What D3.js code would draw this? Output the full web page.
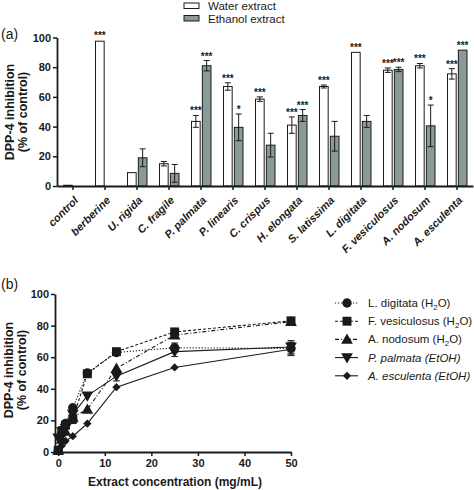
<!DOCTYPE html>
<html><head><meta charset="utf-8">
<script src="https://cdn.jsdelivr.net/npm/d3@7"></script>
<style>
body{margin:0;background:#fff;}
svg{display:block;font-family:"Liberation Sans",Arial,sans-serif;}
</style></head>
<body>
<script>
// ---------- Panel (a) data ----------
const categories = ["control","berberine","U. rigida","C. fragile","P. palmata","P. linearis","C. crispus","H. elongata","S. latissima","L. digitata","F. vesiculosus","A. nodosum","A. esculenta"];
const waterMean = [0.5, 97.5, 9, 15, 43.5, 67, 58.5, 41, 67, 90, 78, 81, 75.5];
const waterSD   = [0, 0.5, 0, 1.5, 4, 2.5, 1.5, 5.5, 1, 0, 1.5, 1.5, 3.5];
const waterSig  = ["", "***", "", "", "***", "***", "***", "***", "***", "***", "***", "***", "***"];
const ethanolMean = [null, null, 19, 8.5, 81, 39.5, 27.5, 47.5, 33.5, 43.5, 78.5, 40.5, 91.5];
const ethanolSD   = [null, null, 6, 6, 3.5, 9, 8, 4, 10, 4, 1.5, 14, 0.3];
const ethanolSig  = ["", "", "", "", "***", "*", "", "***", "", "", "***", "*", "***"];
const seriesA = ["Water extract","Ethanol extract"];
const yTicksA = [0,20,40,60,80,100];

// ---------- Panel (b) data ----------
const conc = [0, 0.78, 1.56, 3.125, 6.25, 12.5, 25, 50];
const lDigitata   = [1, 12, 18, 28, 50, 63, 66, 65.5];
const lDigitataSD = [0, 0, 0, 0, 0, 0, 3, 4];
const fVesiculosus   = [1, 13, 17, 21, 49.5, 63.5, 76, 83];
const fVesiculosusSD = [0, 3, 2, 3, 2, 1, 2, 1];
const aNodosum   = [1, 8, 13, 22, 27, 53, 74, 82.5];
const aNodosumSD = [0, 0, 0, 0, 0, 0, 0, 0];
const pPalmata   = [9, 13, 15, 24, 35.5, 48, 63.5, 66.5];
const pPalmataSD = [0, 3, 0, 0, 0, 3, 3, 4];
const aEsculenta   = [1, 4, 7, 10, 18, 41, 53.5, 65];
const aEsculentaSD = [0, 0, 0, 0, 0, 0, 0, 4];
const xTicksB = [0,10,20,30,40,50];
const yTicksB = [0,20,40,60,80,100];

const W = 474, H = 490;
const svg = d3.select("body").append("svg").attr("width", W).attr("height", H);
const ink = "#1a1a1a";
const gray = "#8a9b95";

// ================= Panel (a) =================
const xA = d3.scaleBand().domain(categories).range([57, 473]);
const xIn = d3.scaleBand().domain(seriesA).range([6.5, 26]).paddingInner(0.2);
const yA = d3.scaleLinear().domain([0, 100]).range([186, 37.5]);

const gA = svg.append("g");
const barData = [];
categories.forEach((c, i) => {
  barData.push({c, s: seriesA[0], v: waterMean[i], sd: waterSD[i], sig: waterSig[i]});
  if (ethanolMean[i] != null) barData.push({c, s: seriesA[1], v: ethanolMean[i], sd: ethanolSD[i], sig: ethanolSig[i]});
});
const bars = gA.selectAll("g.bar").data(barData).enter().append("g");
bars.append("rect")
  .attr("x", d => xA(d.c) + xIn(d.s))
  .attr("y", d => yA(d.v))
  .attr("width", xIn.bandwidth())
  .attr("height", d => yA(0) - yA(d.v))
  .attr("fill", d => d.s === seriesA[0] ? "#fff" : gray)
  .attr("stroke", ink).attr("stroke-width", 1);
bars.filter(d => d.sd > 0.6).each(function(d){
  const g = d3.select(this);
  const cx = xA(d.c) + xIn(d.s) + xIn.bandwidth()/2;
  const y1 = yA(d.v + d.sd), y2 = yA(d.v - d.sd);
  g.append("line").attr("x1", cx).attr("x2", cx).attr("y1", y1).attr("y2", y2).attr("stroke", ink).attr("stroke-width", 1);
  [y1, y2].forEach(y => g.append("line").attr("x1", cx-3).attr("x2", cx+3).attr("y1", y).attr("y2", y).attr("stroke", ink).attr("stroke-width", 1));
});
bars.filter(d => d.sig).append("text")
  .attr("x", d => xA(d.c) + xIn(d.s) + xIn.bandwidth()/2)
  .attr("y", d => yA(d.v + d.sd) - 1)
  .attr("text-anchor", "middle").attr("font-size", 10).attr("font-weight", "bold").attr("fill", ink)
  .text(d => d.sig);

const axYA = gA.append("g").attr("transform", "translate(57,0)")
  .call(d3.axisLeft(yA).tickValues(yTicksA).tickSize(4).tickPadding(2).tickSizeOuter(0));
const axXA = gA.append("g").attr("transform", "translate(0,186)")
  .call(d3.axisBottom(xA).tickSize(4).tickSizeOuter(0).tickFormat(""));
[axYA, axXA].forEach(a => { a.select(".domain").attr("stroke", ink).attr("stroke-width", 1.8); a.selectAll(".tick line").attr("stroke", ink).attr("stroke-width", 1.5); });
axYA.selectAll(".tick text").attr("font-size", 11).attr("font-weight", "bold").attr("fill", ink).attr("font-family", "Liberation Sans, Arial, sans-serif");
gA.append("g").selectAll("text").data(categories).enter().append("text")
  .attr("transform", d => `translate(${xA(d) + xA.bandwidth()/2 + 6},${201}) rotate(-45)`)
  .attr("text-anchor", "end").attr("font-size", 11).attr("font-weight", "bold").attr("font-style", "italic").attr("fill", ink)
  .text(d => d);

const tA = gA.append("text").attr("transform", "translate(14,112) rotate(-90)").attr("text-anchor", "middle")
  .attr("font-size", 12.5).attr("font-weight", "bold").attr("fill", ink);
tA.append("tspan").attr("x", 0).attr("dy", 0).text("DPP-4 inhibition");
tA.append("tspan").attr("x", 0).attr("dy", 13).text("(% of control)");
svg.append("text").attr("x", 1).attr("y", 39).attr("font-size", 14).attr("fill", ink).text("(a)");

const legA = svg.append("g");
seriesA.forEach((s, i) => {
  legA.append("rect").attr("x", 184).attr("y", 3 + i*12.5).attr("width", 15).attr("height", 5.5)
    .attr("fill", i === 0 ? "#fff" : gray).attr("stroke", ink).attr("stroke-width", 1);
  legA.append("text").attr("x", 208).attr("y", 10 + i*12.5).attr("font-size", 11.5).attr("fill", ink).text(s);
});

// ================= Panel (b) =================
const xB = d3.scaleLinear().domain([-0.7, 50]).range([55, 291]);
const yB = d3.scaleLinear().domain([0, 100]).range([452, 294]);
const gB = svg.append("g");

const seriesB = [
  {name: "L. digitata", suffix: "H2O", italic: false, vals: lDigitata, sd: lDigitataSD, dash: "1.2,1.8", sym: d3.symbolCircle, size: 70, rot: 0, dy: 0},
  {name: "F. vesiculosus", suffix: "H2O", italic: false, vals: fVesiculosus, sd: fVesiculosusSD, dash: "3,2", sym: d3.symbolSquare, size: 80, rot: 0, dy: 0},
  {name: "A. nodosum", suffix: "H2O", italic: false, vals: aNodosum, sd: aNodosumSD, dash: "4,2,1,2", sym: d3.symbolTriangle, size: 60, rot: 0, dy: 1},
  {name: "P. palmata (EtOH)", suffix: "", italic: true, vals: pPalmata, sd: pPalmataSD, dash: null, sym: d3.symbolTriangle, size: 60, rot: 180, dy: -1},
  {name: "A. esculenta (EtOH)", suffix: "", italic: true, vals: aEsculenta, sd: aEsculentaSD, dash: null, sym: d3.symbolSquare, size: 34, rot: 45, dy: 0}
];
const line = d3.line().x((d, i) => xB(conc[i])).y(d => yB(d));
seriesB.forEach(s => {
  gB.append("path").attr("d", line(s.vals)).attr("fill", "none").attr("stroke", ink).attr("stroke-width", 1.1)
    .attr("stroke-dasharray", s.dash);
});
seriesB.forEach(s => {
  s.vals.forEach((v, i) => {
    const cx = xB(conc[i]);
    if (s.sd[i] > 0) {
      const y1 = yB(v + s.sd[i]), y2 = yB(v - s.sd[i]);
      gB.append("line").attr("x1", cx).attr("x2", cx).attr("y1", y1).attr("y2", y2).attr("stroke", ink).attr("stroke-width", 1);
      [y1, y2].forEach(y => gB.append("line").attr("x1", cx-3.5).attr("x2", cx+3.5).attr("y1", y).attr("y2", y).attr("stroke", ink).attr("stroke-width", 1));
    }
    gB.append("path").attr("d", d3.symbol().type(s.sym).size(s.size)())
      .attr("transform", `translate(${cx},${yB(v) + s.dy}) rotate(${s.rot})`)
      .attr("fill", ink);
  });
});

const axYB = gB.append("g").attr("transform", "translate(55,0)")
  .call(d3.axisLeft(yB).tickValues(yTicksB).tickSize(4).tickPadding(2).tickSizeOuter(0));
const axXB = gB.append("g").attr("transform", "translate(0,452)")
  .call(d3.axisBottom(xB).tickValues(xTicksB).tickSize(4).tickPadding(3).tickSizeOuter(0));
[axYB, axXB].forEach(a => {
  a.select(".domain").attr("stroke", ink).attr("stroke-width", 1.8);
  a.selectAll(".tick line").attr("stroke", ink).attr("stroke-width", 1.5);
  a.selectAll(".tick text").attr("font-size", 11).attr("font-weight", "bold").attr("fill", ink).attr("font-family", "Liberation Sans, Arial, sans-serif");
});
const tB = gB.append("text").attr("transform", "translate(13,370) rotate(-90)").attr("text-anchor", "middle")
  .attr("font-size", 12.5).attr("font-weight", "bold").attr("fill", ink);
tB.append("tspan").attr("x", 0).attr("dy", 0).text("DPP-4 inhibition");
tB.append("tspan").attr("x", 0).attr("dy", 13).text("(% of control)");
gB.append("text").attr("x", 175).attr("y", 486).attr("text-anchor", "middle").attr("font-size", 12)
  .attr("font-weight", "bold").attr("fill", ink).text("Extract concentration (mg/mL)");
svg.append("text").attr("x", 1).attr("y", 289).attr("font-size", 14).attr("fill", ink).text("(b)");

const legB = svg.append("g");
seriesB.forEach((s, i) => {
  const y = 303 + i*18.2;
  legB.append("line").attr("x1", 335).attr("x2", 358).attr("y1", y).attr("y2", y).attr("stroke", ink)
    .attr("stroke-width", 1.1).attr("stroke-dasharray", s.dash);
  legB.append("path").attr("d", d3.symbol().type(s.sym).size(s.size)())
    .attr("transform", `translate(347,${y + s.dy}) rotate(${s.rot})`).attr("fill", ink);
  const t = legB.append("text").attr("x", 368).attr("y", y + 4).attr("font-size", 11.5).attr("fill", ink)
    .attr("font-style", s.italic ? "italic" : "normal");
  t.append("tspan").text(s.name + (s.suffix ? " (H" : ""));
  if (s.suffix) {
    t.append("tspan").attr("font-size", 8).attr("dy", 3).text("2");
    t.append("tspan").attr("dy", -3).text("O)");
  }
});
</script>
</body></html>
